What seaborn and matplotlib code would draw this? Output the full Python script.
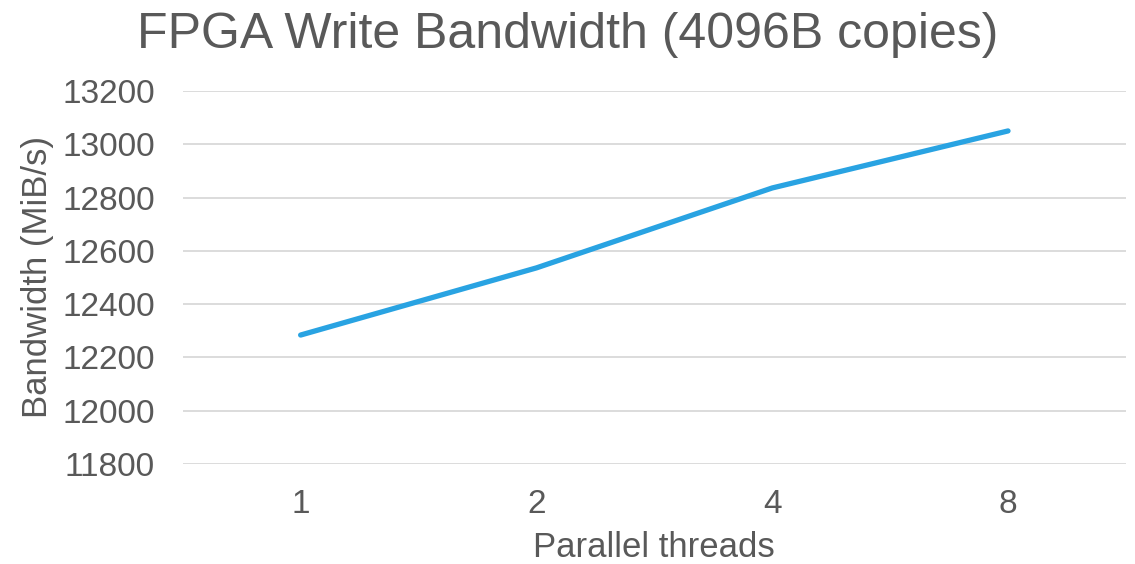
import matplotlib
matplotlib.use("Agg")
import matplotlib.pyplot as plt
import seaborn as sns
import pandas as pd

threads = ["1", "2", "4", "8"]
bandwidth = [12284, 12536, 12836, 13050]
yticks = [11800, 12000, 12200, 12400, 12600, 12800, 13000, 13200]

sns.set_theme(style="white")
plt.rcParams['font.family'] = ['Liberation Sans', 'DejaVu Sans']

df = pd.DataFrame({"threads": threads, "bw": bandwidth})
df["pos"] = range(len(threads))

fig = plt.figure(figsize=(11.35, 5.64), dpi=100)
ax = fig.add_axes([0.161, 0.1773, 0.831, 0.6614])

sns.lineplot(data=df, x="pos", y="bw", ax=ax, color="#29A3E2", linewidth=3.8,
             solid_capstyle="round", solid_joinstyle="round")

ax.set_xlim(-0.5, 3.5)
ax.set_ylim(11800, 13200)
ax.set_yticks(yticks)
ax.set_yticklabels([str(v) for v in yticks])
ax.set_xticks(df["pos"])
ax.set_xticklabels(threads)
ax.yaxis.grid(True, color="#D9D9D9", linewidth=1.3)
ax.set_axisbelow(True)
for s in ax.spines.values():
    s.set_visible(False)
ax.tick_params(axis="both", length=0, labelsize=24, colors="#595959")
ax.tick_params(axis="y", pad=20)
ax.tick_params(axis="x", pad=18)
ax.set_xlabel("Parallel threads", fontsize=25, color="#595959", labelpad=8)
ax.set_ylabel("Bandwidth (MiB/s)", fontsize=25, color="#595959", labelpad=6)
fig.suptitle("FPGA Write Bandwidth (4096B copies)", fontsize=36, color="#595959", y=0.978)

fig.savefig("out.png", dpi=100)
